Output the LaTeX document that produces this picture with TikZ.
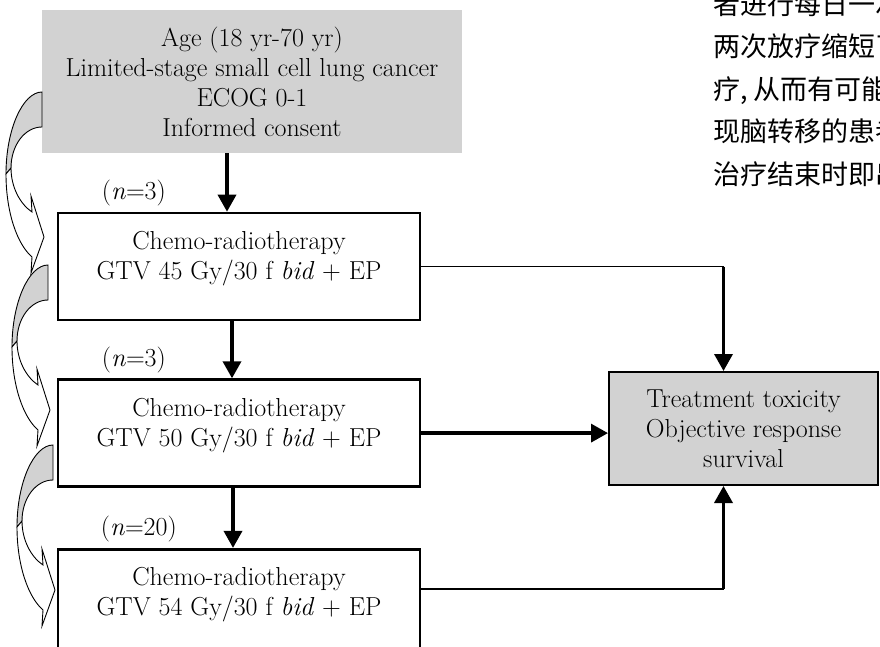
\documentclass[tikz,border=0pt]{standalone}
\usepackage{fontspec}
\newfontfamily\cjkfont{Noto Sans CJK SC}
\usepackage{tikz}
\usetikzlibrary{positioning, arrows.meta}
\definecolor{boxgray}{RGB}{210,210,210}

\begin{document}
\begin{tikzpicture}[
    x=1pt, y=-1pt,
    font=\fontsize{26}{30}\selectfont,
    box/.style={rectangle, draw, line width=2.6pt, minimum width=362pt,
    minimum height=107pt, align=center, text depth=22pt},
    outcome/.style={rectangle, draw, line width=2pt, fill=boxgray,
    minimum width=269pt, minimum height=113pt, align=center},
    graybox/.style={rectangle, fill=boxgray, minimum width=420pt,
    minimum height=143pt, align=center},
    count/.style={anchor=base west, inner sep=0pt},
    arrow/.style={-{Triangle[length=17pt, width=18pt]}, line width=3.5pt},
    link/.style={line width=1.6pt},
    curvedarr/.pic={
      \filldraw[fill=boxgray, line width=0.9pt] (0,0) .. controls (-19,0) and (-36,37) .. (-36,82)
        -- (-31,76) .. controls (-31,53) and (-17,35) .. (0,35) -- cycle;
      \filldraw[fill=white, line width=0.9pt] (-36,82) .. controls (-36,120) and (-25,152) .. (-10,165)
        -- (-11,181) -- (2,145) -- (-11,104) -- (-10,120)
        .. controls (-22,112) and (-31,95) .. (-31,76) -- cycle;
    }
]
\useasboundingbox (0,0) rectangle (880,647);
\clip (0,0) rectangle (880,647);

\node[graybox] (entry) at (252,81.5) {Age (18 yr-70 yr)\\Limited-stage small cell lung cancer\\ECOG 0-1\\Informed consent};
\node[box] (b1) at (239,266.5) {Chemo-radiotherapy\\GTV 45 Gy/30 f \textit{bid} + EP};
\node[box, below=57pt of b1] (b2) {Chemo-radiotherapy\\GTV 50 Gy/30 f \textit{bid} + EP};
\node[box, below=60pt of b2] (b3) {Chemo-radiotherapy\\GTV 54 Gy/30 f \textit{bid} + EP};
\node[outcome] (result) at (743.5,428.5) {Treatment toxicity\\Objective response\\survival};

\node[count] (n1) at ([xshift=45pt, yshift=12pt]b1.north west) {(\textit{n}=3)};
\node[count] (n2) at ([xshift=45pt, yshift=12pt]b2.north west) {(\textit{n}=3)};
\node[count] (n3) at ([xshift=44pt, yshift=12pt]b3.north west) {(\textit{n}=20)};

% text of the page behind the figure
\node[anchor=west, inner sep=0pt, align=left, font=\cjkfont\fontsize{27}{42.5}\selectfont] (note) at (713,89)
  {者进行每日一次\\两次放疗缩短了\\疗, 从而有可能\\现脑转移的患者\\治疗结束时即出};

\draw[arrow] ([xshift=-25pt]entry.south) -- ([xshift=-12pt]b1.north);
\draw[arrow] ([xshift=-7pt]b1.south) -- ([xshift=-7pt]b2.north);
\draw[arrow] ([xshift=-6pt]b2.south) -- ([xshift=-6pt]b3.north);

\coordinate (upper) at ([xshift=-20pt]result.north |- b1.east);
\coordinate (lower) at ([xshift=-20pt, yshift=13.5pt]result.south |- b3.east);
\draw[link] (b1.east) -- (upper);
\draw[arrow] (upper) -- ([xshift=-20pt]result.north);
\draw[arrow] (b2.east) -- (b2.east -| result.west);
\draw[link] ([yshift=13.5pt]b3.east) -- (lower);
\draw[arrow] (lower) -- ([xshift=-20pt]result.south);

% curved arrows on the left
\pic at (42,92) {curvedarr};
\pic at (48,265) {curvedarr};
\pic at (53,445) {curvedarr};

\end{tikzpicture}
\end{document}
